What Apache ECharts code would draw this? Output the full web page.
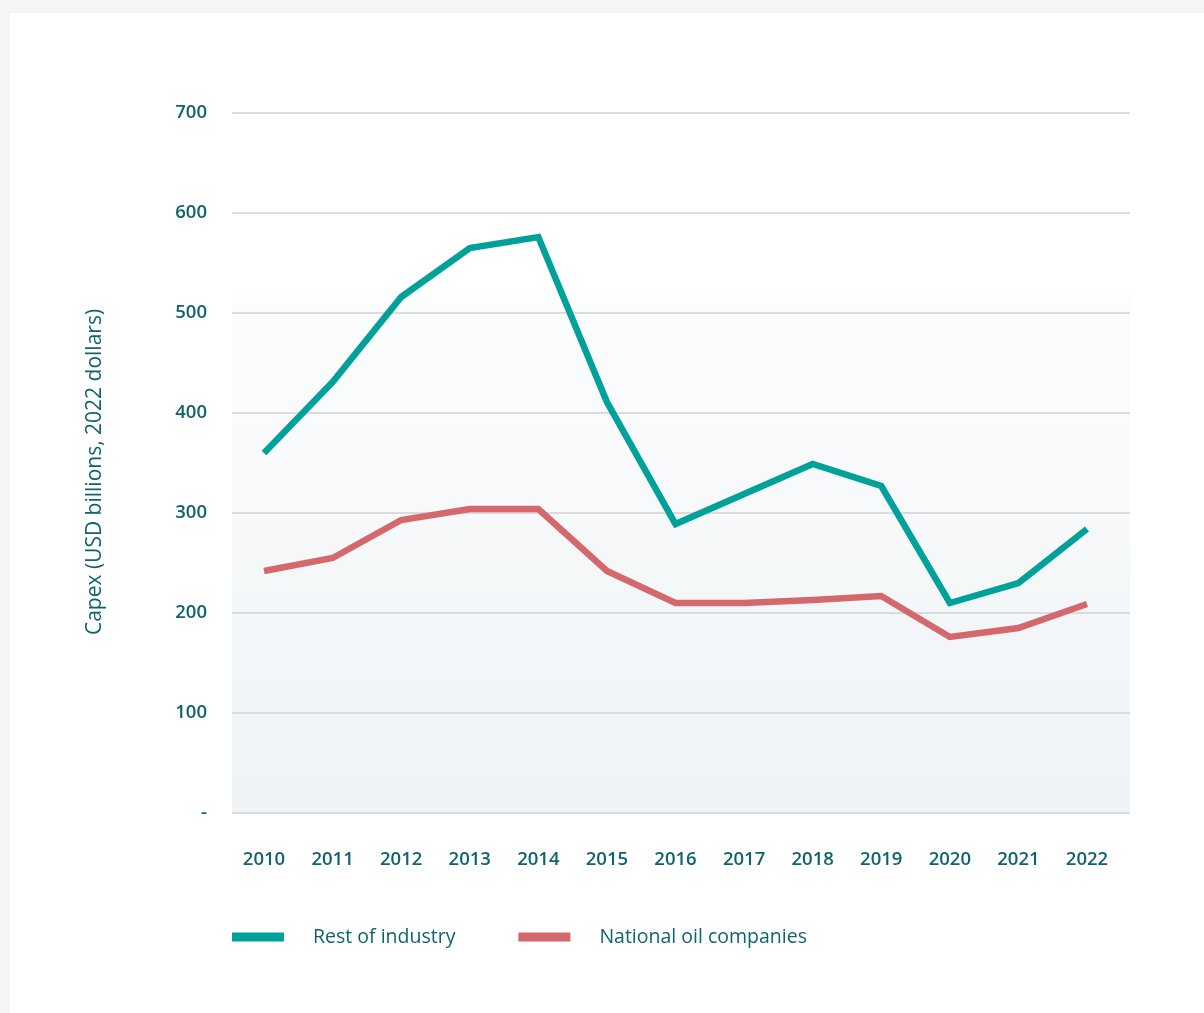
<!DOCTYPE html>
<html>
<head>
<meta charset="utf-8">
<script src="https://cdn.jsdelivr.net/npm/echarts@6/dist/echarts.min.js"></script>
<style>
  html, body { margin: 0; padding: 0; background: #f6f5f3; width: 1204px; height: 1013px; overflow: hidden; }
  #chart { position: absolute; left: 10px; top: 13px; width: 1194px; height: 1000px; background: #ffffff; }
</style>
</head>
<body>
<div id="chart"></div>
<script>
const years = [2010, 2011, 2012, 2013, 2014, 2015, 2016, 2017, 2018, 2019, 2020, 2021, 2022];
const restOfIndustry = [360, 431, 516, 565, 576, 411, 289, 319, 349, 327, 210, 230, 284];
const nationalOilCompanies = [242, 255, 293, 304, 304, 242, 210, 210, 213, 217, 176, 185, 209];
const yTicks = [0, 100, 200, 300, 400, 500, 600, 700];

const textColor = '#10636e';
const chart = echarts.init(document.getElementById('chart'), null, { renderer: 'canvas' });

chart.setOption({
  animation: false,
  textStyle: { fontFamily: 'Open Sans' },
  grid: {
    left: 222, right: 74, top: 100, bottom: 200,
    show: true,
    borderWidth: 0,
    backgroundColor: {
      type: 'linear', x: 0, y: 0, x2: 0, y2: 1,
      colorStops: [
        { offset: 0, color: '#ffffff' },
        { offset: 0.25, color: '#ffffff' },
        { offset: 0.255, color: '#fcfdfd' },
        { offset: 1, color: '#eff3f6' }
      ]
    }
  },
  legend: {
    left: 217, top: 909,
    icon: 'rect',
    itemWidth: 52, itemHeight: 9,
    itemGap: 63,
    textStyle: { color: textColor, fontSize: 19.5, fontWeight: 500, fontFamily: 'Open Sans', padding: [0, 0, 0, 24] },
    data: ['Rest of industry', 'National oil companies']
  },
  xAxis: {
    type: 'value',
    min: 2009.533,
    max: 2022.627,
    axisLine: { show: false },
    axisTick: { show: false },
    splitLine: { show: false },
    axisLabel: {
      customValues: years,
      formatter: v => String(v),
      color: textColor, fontSize: 18.5, fontWeight: 600, margin: 37,
      fontFamily: 'Open Sans'
    }
  },
  yAxis: {
    type: 'value',
    min: 0, max: 700, interval: 100,
    name: 'Capex (USD billions, 2022 dollars)',
    nameLocation: 'middle',
    nameGap: 126,
    nameTextStyle: { color: textColor, fontSize: 21, fontWeight: 500, fontFamily: 'Open Sans', padding: [0, 18, 0, 0] },
    axisLine: { show: false },
    axisTick: { show: false },
    splitLine: { lineStyle: { color: '#d2d2d2', width: 1.5 } },
    axisLabel: {
      formatter: v => (v === 0 ? '-' : String(v)),
      color: textColor, fontSize: 18.5, fontWeight: 600, margin: 25,
      fontFamily: 'Open Sans'
    }
  },
  series: [
    {
      name: 'Rest of industry',
      type: 'line',
      data: years.map((y, i) => [y, restOfIndustry[i]]),
      showSymbol: false,
      symbol: 'none',
      color: '#00a19b',
      lineStyle: { width: 6.5, color: '#00a19b', join: 'miter', cap: 'butt' }
    },
    {
      name: 'National oil companies',
      type: 'line',
      data: years.map((y, i) => [y, nationalOilCompanies[i]]),
      showSymbol: false,
      symbol: 'none',
      color: '#d4686d',
      lineStyle: { width: 6.5, color: '#d4686d', join: 'miter', cap: 'butt' }
    }
  ]
});
</script>
</body>
</html>
